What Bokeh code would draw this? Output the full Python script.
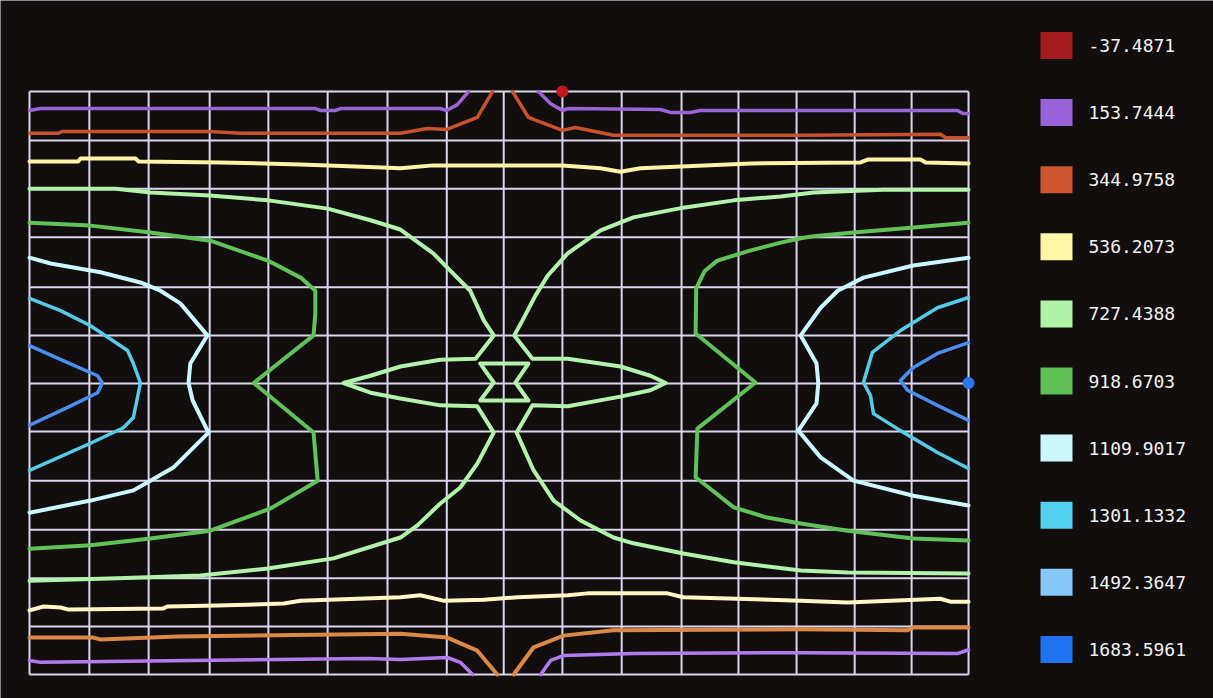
from bokeh.plotting import figure
from bokeh.models import Range1d
from bokeh.embed import file_html
from bokeh.resources import INLINE
from bokeh.core.properties import value

# ---------------- data ----------------
levels = [-37.4871, 153.7444, 344.9758, 536.2073, 727.4388,
          918.6703, 1109.9017, 1301.1332, 1492.3647, 1683.5961]
level_labels = ["-37.4871", "153.7444", "344.9758", "536.2073", "727.4388",
                "918.6703", "1109.9017", "1301.1332", "1492.3647", "1683.5961"]

# mesh lines (positions)
grid_cols = [0, 1.02, 2.03, 3.07, 4.07, 5.08, 6.10, 7.11, 8.08, 9.08, 10.09,
             11.11, 12.08, 13.07, 14.06, 15.03, 16.0]
grid_rows = [0, 0.99, 1.98, 2.98, 3.99, 5.00, 5.99, 6.98, 7.97, 9.00, 10.00, 10.99, 12.0]

# level 153.7444 (purple)
p153_tl_x = [0, 0.19, 4.87, 4.96, 5.21, 5.30, 7.00, 7.11, 7.29, 7.48]
p153_tl_y = [11.61, 11.65, 11.65, 11.61, 11.61, 11.65, 11.65, 11.61, 11.73, 12.0]
p153_tr_x = [8.67, 8.88, 9.08, 9.17, 10.75, 10.92, 11.26, 11.43, 15.81, 15.90, 16.0]
p153_tr_y = [12.0, 11.75, 11.61, 11.65, 11.63, 11.57, 11.57, 11.61, 11.61, 11.55, 11.55]
p153_bl_x = [0, 0.19, 5.76, 6.32, 7.12, 7.34, 7.55]
p153_bl_y = [0.29, 0.25, 0.33, 0.31, 0.35, 0.25, 0.0]
p153_br_x = [8.71, 8.88, 9.10, 10.29, 13.14, 15.81, 16.0]
p153_br_y = [0.0, 0.29, 0.39, 0.43, 0.45, 0.43, 0.51]

# level 344.9758 (orange-red)
p345_tl_x = [0, 0.49, 0.56, 3.03, 3.60, 6.32, 6.78, 7.11, 7.63, 7.89]
p345_tl_y = [11.14, 11.14, 11.18, 11.18, 11.14, 11.14, 11.24, 11.22, 11.47, 12.0]
p345_tr_x = [8.23, 8.50, 9.08, 9.30, 9.95, 13.14, 15.52, 15.61, 16.0]
p345_tr_y = [12.0, 11.47, 11.20, 11.26, 11.10, 11.10, 11.12, 11.05, 11.05]
p345_bl_x = [0, 1.09, 1.21, 2.52, 6.32, 7.12, 7.63, 7.97]
p345_bl_y = [0.76, 0.76, 0.72, 0.78, 0.84, 0.76, 0.49, 0.0]
p345_br_x = [8.25, 8.59, 9.10, 9.95, 13.14, 14.96, 15.06, 16.0]
p345_br_y = [0.0, 0.56, 0.80, 0.91, 0.93, 0.91, 0.97, 0.97]

# level 536.2073 (yellow)
p536_t_x = [0, 0.83, 0.87, 1.81, 1.86, 3.25, 4.62, 5.90, 6.32, 6.88, 9.08, 9.73,
            10.07, 10.41, 12.29, 14.16, 14.28, 15.18, 15.27, 16.0]
p536_t_y = [10.56, 10.56, 10.62, 10.62, 10.56, 10.54, 10.50, 10.44, 10.42, 10.48, 10.48, 10.42,
            10.35, 10.42, 10.52, 10.54, 10.60, 10.60, 10.54, 10.52]
p536_b_x = [0, 0.24, 0.53, 0.65, 2.28, 2.35, 3.20, 4.33, 4.62, 6.32, 6.66, 7.05, 7.74,
            8.32, 9.17, 9.51, 10.87, 11.14, 13.14, 13.94, 15.52, 15.69, 16.0]
p536_b_y = [1.32, 1.40, 1.38, 1.34, 1.36, 1.40, 1.42, 1.46, 1.52, 1.59, 1.63, 1.52, 1.54,
            1.59, 1.63, 1.67, 1.67, 1.59, 1.52, 1.48, 1.56, 1.50, 1.50]

# level 727.4388 (light green)
p727_l_x = [0, 1.47, 2.06, 3.07, 4.07, 5.08, 5.81, 6.32, 6.88, 7.22, 7.51, 7.74, 7.91, 7.60,
            7.00, 6.32, 5.81, 5.35, 5.81, 6.32, 7.00, 7.63, 7.91, 7.63, 7.34, 7.00, 6.61,
            6.32, 5.18, 4.06, 2.91, 1.50, 0]
p727_l_y = [10.00, 10.00, 9.92, 9.86, 9.76, 9.59, 9.35, 9.16, 8.67, 8.25, 7.90, 7.29, 6.98, 6.50,
            6.48, 6.34, 6.15, 6.00, 5.80, 5.68, 5.54, 5.52, 4.98, 4.34, 3.85, 3.52, 3.07,
            2.82, 2.39, 2.18, 2.04, 1.98, 1.93]
p727_r_x = [16.0, 14.55, 13.36, 12.80, 12.00, 11.14, 10.29, 9.73, 9.17, 8.83, 8.62, 8.40, 8.26,
            8.57, 9.17, 10.07, 10.58, 10.84, 10.58, 10.07, 9.17, 8.57, 8.30, 8.59, 8.93,
            9.39, 9.95, 10.29, 11.14, 12.00, 13.14, 13.94, 16.0]
p727_r_y = [9.98, 9.98, 9.92, 9.84, 9.76, 9.61, 9.41, 9.14, 8.67, 8.21, 7.80, 7.29, 6.98,
            6.50, 6.50, 6.34, 6.15, 6.00, 5.85, 5.72, 5.52, 5.54, 4.98, 4.20, 3.58,
            3.17, 2.82, 2.70, 2.49, 2.31, 2.14, 2.10, 2.08]
p727_c_x = [7.68, 8.50, 8.28, 8.50, 7.68, 7.91, 7.68]
p727_c_y = [6.40, 6.40, 6.01, 5.64, 5.64, 6.01, 6.40]

# level 918.6703 (green)
p918_l_x = [0, 1.04, 2.06, 3.08, 4.06, 4.62, 4.87, 4.87, 4.84, 3.82, 4.84, 4.91, 4.11,
            3.08, 2.06, 1.04, 0]
p918_l_y = [9.30, 9.24, 9.10, 8.93, 8.52, 8.17, 7.90, 7.43, 6.98, 6.00, 4.98, 3.99, 3.42,
            2.96, 2.80, 2.66, 2.59]
p918_r_x = [16.0, 15.06, 14.04, 13.36, 13.14, 12.80, 12.29, 11.72, 11.50, 11.36, 11.35, 12.37,
            11.38, 11.35, 12.00, 12.57, 13.14, 13.94, 15.06, 16.0]
p918_r_y = [9.30, 9.20, 9.10, 9.02, 8.98, 8.89, 8.73, 8.52, 8.30, 7.95, 7.02, 6.01,
            5.06, 4.06, 3.44, 3.23, 3.11, 2.96, 2.80, 2.76]

# level 1109.9017 (pale cyan)
p1110_l_x = [0, 0.36, 1.21, 1.89, 2.23, 2.57, 3.03, 2.74, 2.71, 2.78, 3.05, 2.45, 2.06,
             1.77, 1.04, 0]
p1110_l_y = [8.58, 8.46, 8.28, 8.07, 7.90, 7.64, 6.98, 6.40, 6.00, 5.64, 4.98, 4.26, 3.99,
             3.79, 3.58, 3.33]
p1110_r_x = [16.0, 15.06, 14.21, 13.77, 13.48, 13.14, 13.41, 13.44, 13.41, 13.10, 13.48,
             14.04, 15.06, 16.0]
p1110_r_y = [8.58, 8.42, 8.17, 7.90, 7.55, 6.98, 6.40, 6.00, 5.58, 5.02, 4.47,
             3.99, 3.68, 3.48]

# level 1301.1332 (cyan)
p1301_l_x = [0, 0.53, 1.04, 1.67, 1.77, 1.89, 1.77, 1.60, 1.04, 0]
p1301_l_y = [7.74, 7.49, 7.18, 6.67, 6.40, 6.00, 5.29, 5.08, 4.76, 4.20]
p1301_r_x = [16.0, 15.47, 14.84, 14.36, 14.28, 14.21, 14.33, 14.38, 14.84, 15.47, 16.0]
p1301_r_y = [7.76, 7.55, 7.08, 6.63, 6.30, 6.01, 5.74, 5.37, 5.02, 4.57, 4.24]

# level 1492.3647 (blue)
p1492_l_x = [0, 0.65, 1.16, 1.24, 1.16, 0.65, 0]
p1492_l_y = [6.77, 6.42, 6.15, 6.00, 5.80, 5.50, 5.13]
p1492_r_x = [16.0, 15.47, 15.06, 14.84, 14.96, 15.47, 16.0]
p1492_r_y = [6.83, 6.61, 6.32, 6.05, 5.85, 5.54, 5.23]

# extreme points (minimum / maximum)
min_x, min_y = [9.08], [12.0]
max_x, max_y = [16.0], [6.0]

# ---------------- styles ----------------
BG = "#120e0e"
GRID = "#d9d7ee"
legend_colors = ["#a31d1f", "#9a62d8", "#cf5530", "#fff6a8", "#aef3a6",
                 "#5ec054", "#ccf6ff", "#52d0ee", "#86c8f8", "#1f72f0"]

lines = [
    (p153_tl_x, p153_tl_y, "#9a66d6", 3.5),
    (p153_tr_x, p153_tr_y, "#9a66d6", 3.5),
    (p153_bl_x, p153_bl_y, "#b27cf0", 3.5),
    (p153_br_x, p153_br_y, "#b27cf0", 3.5),
    (p345_tl_x, p345_tl_y, "#c9522e", 3.5),
    (p345_tr_x, p345_tr_y, "#c9522e", 3.5),
    (p345_bl_x, p345_bl_y, "#dc8846", 4),
    (p345_br_x, p345_br_y, "#dc8846", 4),
    (p536_t_x, p536_t_y, "#fff3a6", 4),
    (p536_b_x, p536_b_y, "#fff6c6", 4),
    (p727_l_x, p727_l_y, "#b2f2aa", 4),
    (p727_r_x, p727_r_y, "#b2f2aa", 4),
    (p727_c_x, p727_c_y, "#b2f2aa", 4),
    (p918_l_x, p918_l_y, "#62c25a", 4),
    (p918_r_x, p918_r_y, "#62c25a", 4),
    (p1110_l_x, p1110_l_y, "#cbf7ff", 4),
    (p1110_r_x, p1110_r_y, "#cbf7ff", 4),
    (p1301_l_x, p1301_l_y, "#55cbe8", 3.5),
    (p1301_r_x, p1301_r_y, "#55cbe8", 3.5),
    (p1492_l_x, p1492_l_y, "#4a8ef2", 3.5),
    (p1492_r_x, p1492_r_y, "#4a8ef2", 3.5),
]

# pixel layout of the page -> data coordinates of the mesh
PX_X0, PX_DX = 29.0, 58.69
PX_Y0, PX_DY = 674.0, 48.58
W, H = 1213, 698


def dx(px):
    return (px - PX_X0) / PX_DX


def dy(py):
    return (PX_Y0 - py) / PX_DY


p = figure(width=W, height=H, x_range=Range1d(dx(0), dx(W)), y_range=Range1d(dy(H), dy(0)),
           x_axis_location=None, y_axis_location=None, toolbar_location=None,
           output_backend="svg", min_border=0, outline_line_color=None,
           background_fill_color=BG, border_fill_color=BG)
p.grid.visible = False

# mesh grid
gx0, gx1 = grid_cols[0], grid_cols[-1]
gy0, gy1 = grid_rows[0], grid_rows[-1]
p.segment(x0=grid_cols, y0=[gy0] * len(grid_cols), x1=grid_cols, y1=[gy1] * len(grid_cols),
          line_color=GRID, line_width=2)
p.segment(x0=[gx0] * len(grid_rows), y0=grid_rows, x1=[gx1] * len(grid_rows), y1=grid_rows,
          line_color=GRID, line_width=2)

# contour lines
for xs, ys, col, w in lines:
    p.line(xs, ys, line_color=col, line_width=w, line_join="round", line_cap="round")

# extreme markers
p.scatter(min_x, min_y, size=12, fill_color="#c2191d", line_color=None)
p.scatter(max_x, max_y, size=12, fill_color="#2a78f0", line_color=None)

# legend
leg_y_px = [45 + i * 67.1 for i in range(len(levels))]
leg_y = [dy(v) for v in leg_y_px]
p.rect(x=[dx(1056)] * len(levels), y=leg_y, width=32, height=27,
       width_units="screen", height_units="screen",
       fill_color=legend_colors, line_color=None)
p.text(x=[dx(1088)] * len(levels), y=leg_y, text=level_labels,
       text_font=value("DejaVu Sans Mono"), text_font_size="18px",
       text_color="#f2f2f2", text_baseline="middle", text_align="left")

open("out.html", "w").write(file_html(p, INLINE))
